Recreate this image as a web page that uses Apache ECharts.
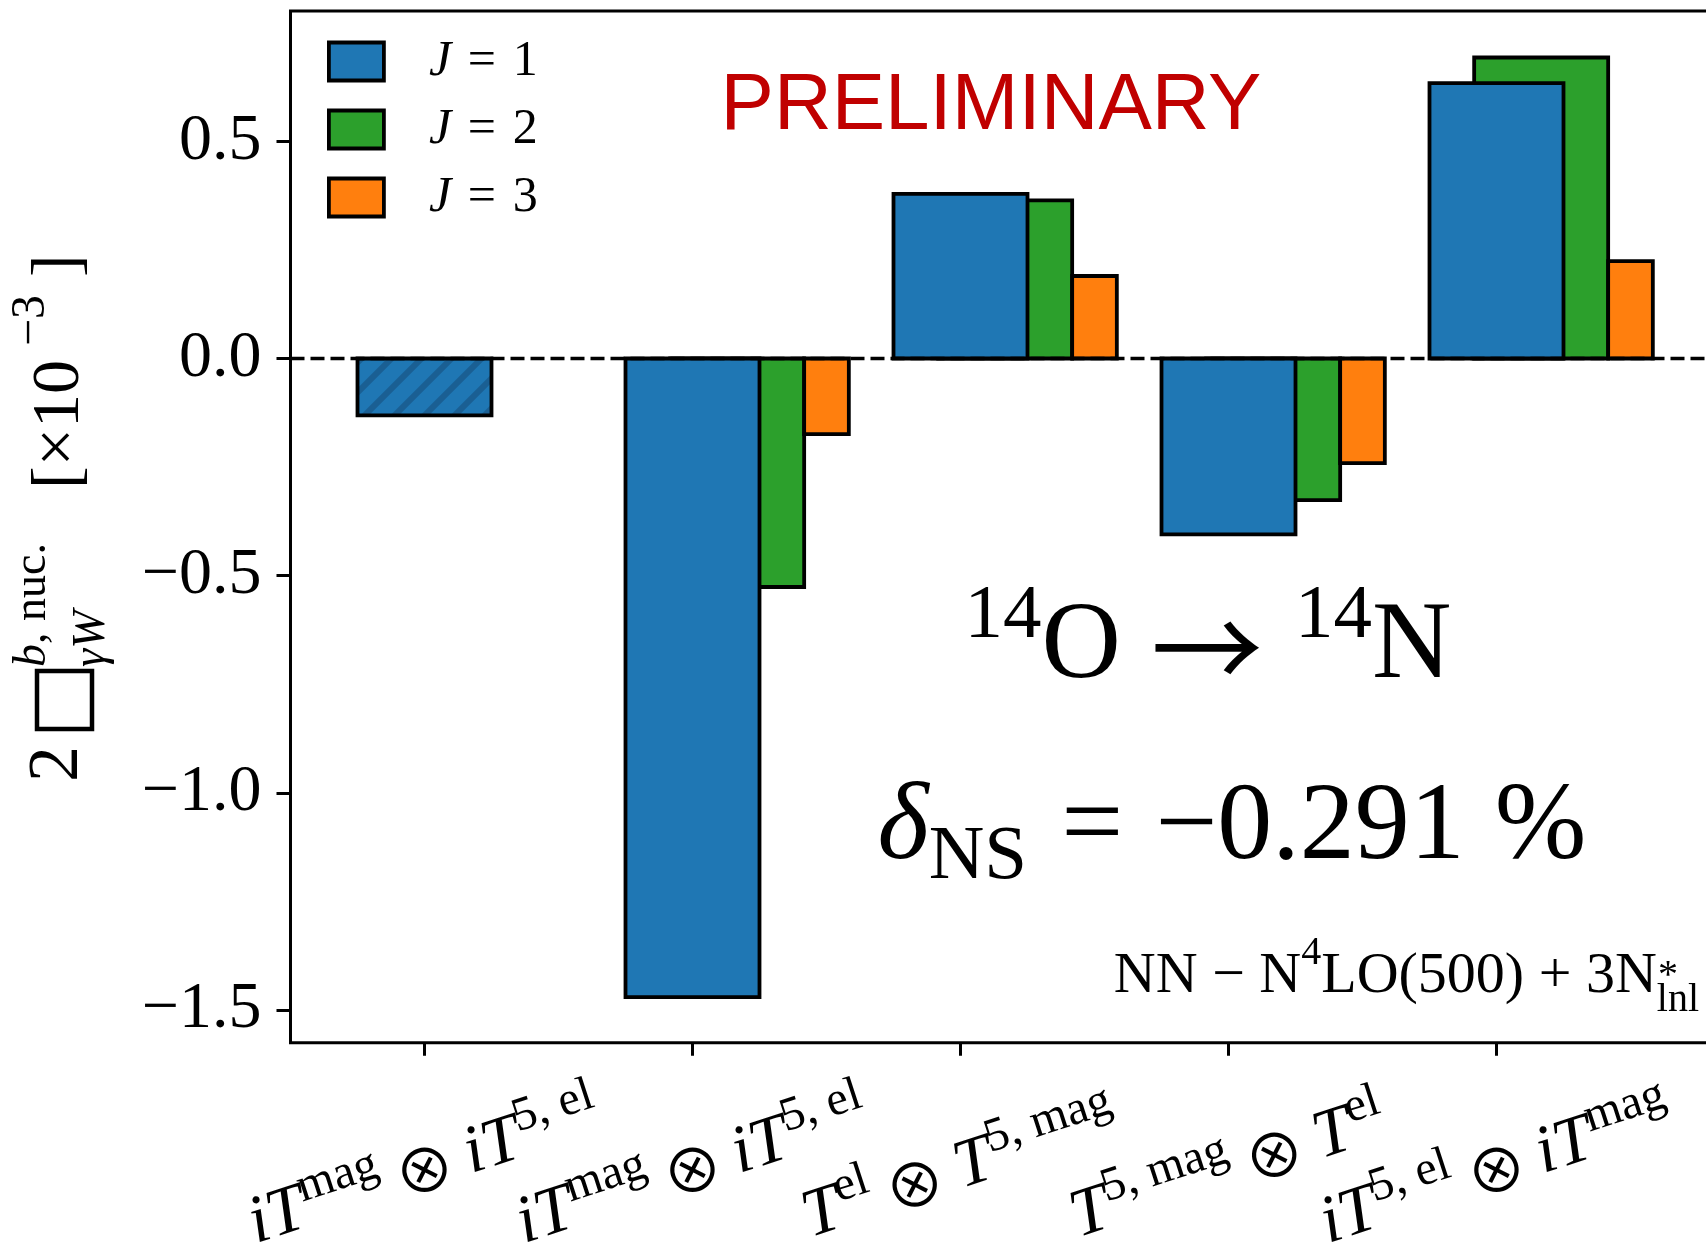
<!DOCTYPE html>
<html>
<head>
<meta charset="utf-8">
<script src="https://cdn.jsdelivr.net/npm/echarts@6.0.0/dist/echarts.min.js"></script>
<style>
  html, body { margin: 0; padding: 0; background: #fff; }
  #chart { width: 1706px; height: 1252px; }
</style>
</head>
<body>
<div id="chart"></div>
<script>
// ---------------- data ----------------
const categories = [
  'iT^{mag} ⊗ iT^{5, el}',
  'iT^{mag} ⊗ iT^{5, el}',
  'T^{el} ⊗ T^{5, mag}',
  'T^{5, mag} ⊗ T^{el}',
  'iT^{5, el} ⊗ iT^{mag}'
];
const seriesNames = ['J=1', 'J=2', 'J=3'];
const j1Values = [-0.131, -1.470, 0.379, -0.405, 0.634];
const j2Values = [null, -0.526, 0.364, -0.326, 0.693];
const j3Values = [null, -0.174, 0.190, -0.241, 0.224];
const j1Hatched = [true, false, false, false, false];
const yTickValues = [-1.5, -1.0, -0.5, 0.0, 0.5];
const yMin = -1.575, yMax = 0.8;

// ---------------- helpers ----------------
const SERIF = 'Liberation Serif';
const LIGHT_SYM = "'DejaVu Sans ExtraLight', 'Noto Sans CJK JP', 'DejaVu Sans'";
const OTIMES_FONT = "'Noto Sans CJK JP', 'DejaVu Sans'";
const BLACK = '#000';

function texToRich(s) {
  return s.split(' ⊗ ').map(part => {
    const m = part.match(/^(.*?)\^\{(.*)\}$/);
    return m ? `{it|${m[1]}}{sup|${m[2]}}` : `{it|${part}}`;
  }).join('{op| ⊗ }');
}

function fmtTick(v) {
  const s = Math.abs(v).toFixed(1);
  return v < 0 ? '\u2212' + s : s;
}

// hatch pattern for the first J=1 bar
const hatchCanvas = document.createElement('canvas');
hatchCanvas.width = 30; hatchCanvas.height = 30;
(function () {
  const g = hatchCanvas.getContext('2d');
  g.fillStyle = '#1f77b4'; g.fillRect(0, 0, 30, 30);
  g.strokeStyle = '#1a5f93'; g.lineWidth = 6;
  g.beginPath();
  g.moveTo(-5, 35); g.lineTo(35, -5);
  g.moveTo(-20, 20); g.lineTo(20, -20);
  g.moveTo(10, 50); g.lineTo(50, 10);
  g.stroke();
})();
const hatchPattern = { image: hatchCanvas, repeat: 'repeat' };

function barSeries(name, values, offset, widthFrac, color, z, hatchFlags) {
  return {
    type: 'custom',
    name: name,
    z: z,
    coordinateSystem: 'cartesian2d',
    encode: { x: 0, y: 1 },
    itemStyle: { color: color, borderColor: BLACK, borderWidth: 3.8 },
    data: values.map((v, i) => (v === null ? null : [i, v])).filter(d => d),
    renderItem: function (params, api) {
      const i = api.value(0), v = api.value(1);
      const p0 = api.coord([i, 0]);
      const p1 = api.coord([i, v]);
      const band = api.size([1, 0])[0];
      const w = band * widthFrac;
      const x = p0[0] + offset * band - w / 2;
      const hatched = hatchFlags && hatchFlags[i];
      return {
        type: 'rect',
        shape: { x: x, y: Math.min(p0[1], p1[1]), width: w, height: Math.abs(p1[1] - p0[1]) },
        style: { fill: hatched ? hatchPattern : color, stroke: BLACK, lineWidth: 3.8 }
      };
    }
  };
}

function txt(d, b, text, fs, family, fontStyle, extra) {
  return {
    type: 'text', x: d, y: b - 0.34 * fs,
    style: Object.assign({
      text: text, fontSize: fs, fontFamily: family, fontStyle: fontStyle || 'normal',
      fill: BLACK, align: 'left', verticalAlign: 'middle'
    }, extra || {})
  };
}

// ---------------- chart ----------------
const chart = echarts.init(document.getElementById('chart'), null, { renderer: 'canvas', width: 1706, height: 1252 });

const xRich = {
  it: { fontFamily: SERIF, fontStyle: 'italic', fontSize: 68, lineHeight: 88, verticalAlign: 'middle', color: BLACK },
  sup: { fontFamily: SERIF, fontSize: 48, lineHeight: 48, verticalAlign: 'top', color: BLACK },
  op: { fontFamily: OTIMES_FONT, fontSize: 60, lineHeight: 88, verticalAlign: 'middle', color: BLACK }
};

const option = {
  animation: false,
  backgroundColor: '#fff',
  textStyle: { fontFamily: SERIF, color: BLACK },
  grid: {
    left: 290.5, top: 11, bottom: 209.3, width: 1608,
    show: true, borderColor: BLACK, borderWidth: 3, backgroundColor: 'transparent',
    containLabel: false, outerBoundsMode: 'none'
  },
  xAxis: {
    type: 'category',
    data: categories.concat(['']),
    boundaryGap: true,
    axisLine: { show: false, onZero: false },
    splitLine: { show: false },
    axisTick: { show: true, alignWithLabel: true, interval: 0, length: 13, lineStyle: { color: BLACK, width: 3 } },
    axisLabel: {
      interval: 0, rotate: 18, align: 'center', verticalAlign: 'middle', margin: 127,
      color: BLACK, hideOverlap: false,
      formatter: (v, i) => (i < categories.length ? texToRich(categories[i]) : ''),
      rich: xRich
    }
  },
  yAxis: {
    type: 'value', min: yMin, max: yMax,
    axisLine: { show: false, onZero: false },
    splitLine: { show: false },
    axisTick: { show: true, customValues: yTickValues, length: 14, lineStyle: { color: BLACK, width: 3 } },
    axisLabel: { customValues: yTickValues, formatter: fmtTick, fontFamily: SERIF, fontSize: 66, color: BLACK, margin: 29 }
  },
  legend: {
    orient: 'vertical', left: 327, top: 36.5, padding: 0,
    itemWidth: 55, itemHeight: 38, itemGap: 18,
    icon: 'rect',
    itemStyle: { borderColor: BLACK, borderWidth: 3.8 },
    data: seriesNames,
    formatter: name => `{j|J}{r|\u2004=\u2004${name.split('=')[1]}}`,
    textStyle: {
      padding: [0, 0, 0, 40],
      rich: {
        j: { fontFamily: SERIF, fontStyle: 'italic', fontSize: 50, lineHeight: 50, color: BLACK },
        r: { fontFamily: SERIF, fontSize: 50, lineHeight: 50, color: BLACK }
      }
    }
  },
  series: [
    barSeries(seriesNames[0], j1Values, 0, 0.5, '#1f77b4', 4, j1Hatched),
    barSeries(seriesNames[1], j2Values, 1 / 6, 0.5, '#2ca02c', 3, null),
    barSeries(seriesNames[2], j3Values, 0.5, 1 / 6, '#ff7f0e', 3, null),
    {
      type: 'line', name: 'zero', data: [], z: 5, silent: true,
      markLine: {
        silent: true, symbol: ['none', 'none'], label: { show: false },
        lineStyle: { color: BLACK, type: [14, 6], width: 3.4 },
        data: [{ yAxis: 0 }]
      }
    }
  ],
  graphic: [
    // y-axis title (rotated)
    {
      type: 'group', x: 83, y: 780, rotation: Math.PI / 2,
      children: [
        txt(-2, 0, '2', 72, SERIF),
        { type: 'rect', shape: { x: 51, y: -46, width: 58, height: 55 }, style: { fill: 'none', stroke: BLACK, lineWidth: 4.5 } },
        {
          type: 'text', x: 113, y: -34 - 0.34 * 46,
          style: {
            text: '{i|b}{r|, nuc.}', fill: BLACK, align: 'left', verticalAlign: 'middle',
            rich: {
              i: { fontFamily: SERIF, fontStyle: 'italic', fontSize: 46, lineHeight: 46 },
              r: { fontFamily: SERIF, fontSize: 46, lineHeight: 46 }
            }
          }
        },
        txt(113, 25, '\u03B3W', 46, SERIF, 'italic'),
        txt(291, 0, '[\u00D710', 68, SERIF),
        txt(434, -35, '\u22123', 48, SERIF),
        txt(503, 0, ']', 68, SERIF)
      ]
    },
    // PRELIMINARY
    {
      type: 'text', x: 991, y: 107,
      style: { text: 'PRELIMINARY', fontFamily: 'Liberation Sans', fontSize: 80, fill: '#c00000', align: 'center', verticalAlign: 'middle' }
    },
    // 14O -> 14N
    {
      type: 'text', x: 1208, y: 648,
      style: {
        text: '{s|14}{m|O}{a|\u2192}{s|14}{m|N}', align: 'center', verticalAlign: 'middle', fill: BLACK,
        rich: {
          s: { fontFamily: SERIF, fontSize: 77, lineHeight: 77, verticalAlign: 'top' },
          m: { fontFamily: SERIF, fontSize: 110, lineHeight: 140, verticalAlign: 'middle' },
          a: { fontFamily: LIGHT_SYM, fontSize: 112, lineHeight: 140, verticalAlign: 'middle', padding: [0, 32, 0, 30] }
        }
      }
    },
    // delta_NS
    {
      type: 'text', x: 1232, y: 829,
      style: {
        text: '{i|\u03B4}{sub|NS}{eq|=}{m|\u22120.291}{pc|%}', align: 'center', verticalAlign: 'middle', fill: BLACK,
        rich: {
          i: { fontFamily: SERIF, fontStyle: 'italic', fontSize: 110, lineHeight: 134, verticalAlign: 'middle' },
          sub: { fontFamily: SERIF, fontSize: 77, lineHeight: 77, verticalAlign: 'bottom' },
          eq: { fontFamily: SERIF, fontSize: 110, lineHeight: 134, verticalAlign: 'middle', padding: [0, 32, 0, 34] },
          m: { fontFamily: SERIF, fontSize: 110, lineHeight: 134, verticalAlign: 'middle' },
          pc: { fontFamily: SERIF, fontSize: 110, lineHeight: 134, verticalAlign: 'middle', padding: [0, 0, 0, 30] }
        }
      }
    },
    // interaction label
    {
      type: 'text', x: 1699, y: 977,
      style: {
        text: '{m|NN \u2212 N}{sup|4}{m|LO(500) + 3N}{sub|lnl}', align: 'right', verticalAlign: 'middle', fill: BLACK,
        rich: {
          m: { fontFamily: SERIF, fontSize: 58, lineHeight: 87, verticalAlign: 'middle' },
          sup: { fontFamily: SERIF, fontSize: 40, lineHeight: 40, verticalAlign: 'top' },
          sub: { fontFamily: SERIF, fontSize: 40, lineHeight: 40, verticalAlign: 'bottom' }
        }
      }
    },
    {
      type: 'text', x: 1668, y: 976,
      style: { text: '*', fontFamily: SERIF, fontSize: 40, fill: BLACK, align: 'center', verticalAlign: 'middle' }
    }
  ]
};

chart.setOption(option);
</script>
</body>
</html>
